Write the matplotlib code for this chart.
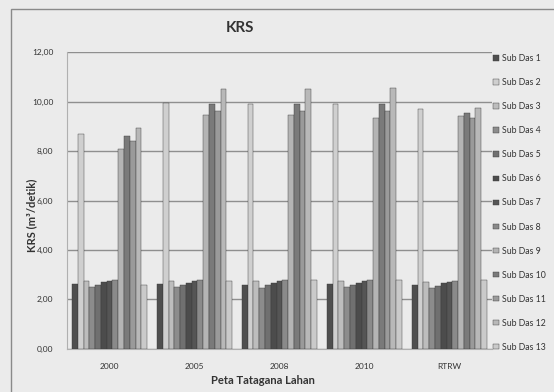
import matplotlib
matplotlib.use("Agg")
import matplotlib.pyplot as plt
import numpy as np
from matplotlib.patches import Rectangle

# data (values in m3/detik)
years = ["2000", "2005", "2008", "2010", "RTRW"]
series_names = [f"Sub Das {i}" for i in range(1, 14)]
krs_2000 = [2.63, 8.70, 2.75, 2.50, 2.60, 2.70, 2.75, 2.78, 8.10, 8.60, 8.40, 8.95, 2.60]
krs_2005 = [2.62, 9.95, 2.75, 2.50, 2.58, 2.68, 2.74, 2.78, 9.45, 9.90, 9.60, 10.50, 2.75]
krs_2008 = [2.60, 9.90, 2.75, 2.48, 2.58, 2.68, 2.74, 2.78, 9.45, 9.90, 9.60, 10.50, 2.78]
krs_2010 = [2.62, 9.90, 2.76, 2.50, 2.58, 2.68, 2.74, 2.78, 9.35, 9.90, 9.60, 10.55, 2.78]
krs_rtrw = [2.58, 9.70, 2.72, 2.48, 2.55, 2.65, 2.72, 2.75, 9.40, 9.55, 9.35, 9.75, 2.80]
grays = ["#4f4f4f", "#cfcfcf", "#bdbdbd", "#8c8c8c", "#707070", "#4c4c4c", "#555555",
         "#8a8a8a", "#b4b4b4", "#7a7a7a", "#9a9a9a", "#b8b8b8", "#cacaca"]

values = np.array([krs_2000, krs_2005, krs_2008, krs_2010, krs_rtrw])

bg = "#ebebeb"
plt.rcParams["font.family"] = ["Lato", "DejaVu Sans"]
fig = plt.figure(figsize=(5.54, 3.92), dpi=100, facecolor=bg)
ax = fig.add_axes([0.121, 0.110, 0.767, 0.757])
ax.set_facecolor(bg)

n = len(series_names)
width = 0.068
x = np.arange(len(years))
for i in range(n):
    offs = (i - (n - 1) / 2) * width
    ax.bar(x + offs, values[:, i], width, color=grays[i], edgecolor="#3a3a3a",
           linewidth=0.3, label=series_names[i], zorder=3)

ax.set_xlim(-0.5, len(years) - 0.5)
ax.set_ylim(0, 12)
ax.set_yticks(np.arange(0, 13, 2))
ax.set_yticklabels([f"{v:.2f}".replace(".", ",") for v in np.arange(0, 13, 2)],
                   fontsize=6, color="#333333")
ax.set_xticks(x)
ax.set_xticklabels(years, fontsize=6, color="#333333")
ax.tick_params(axis="both", length=0, pad=10)
ax.grid(axis="y", color="#8f8f8f", linewidth=1.0, zorder=0)
for s in ["top", "right"]:
    ax.spines[s].set_visible(False)
ax.spines["left"].set_color("#b0b0b0")
ax.spines["bottom"].set_color("#b0b0b0")

ax.legend(loc="upper left", bbox_to_anchor=(0.995, 1.005), frameon=False,
          fontsize=6.3, handlelength=0.6, handleheight=0.6, handletextpad=0.4,
          labelspacing=1.72, borderaxespad=0, labelcolor="#333333")

fig.text(240 / 554, 1 - 28 / 392, "KRS", fontsize=11, fontweight="bold",
         ha="center", va="center", color="#333333")
fig.text(32 / 554, 1 - 215 / 392, "KRS (m³/detik)", fontsize=8, fontweight="bold",
         rotation=90, ha="center", va="center", color="#333333")
fig.text(263 / 554, 1 - 380 / 392, "Peta Tatagana Lahan", fontsize=8,
         fontweight="bold", ha="center", va="center", color="#333333")

fig.add_artist(Rectangle((11 / 554, -0.05), 1.1, 1 - 9 / 392 + 0.05,
                         transform=fig.transFigure, fill=False,
                         edgecolor="#8a8a8a", linewidth=1.0))

fig.savefig("out.png", dpi=100, facecolor=bg)
